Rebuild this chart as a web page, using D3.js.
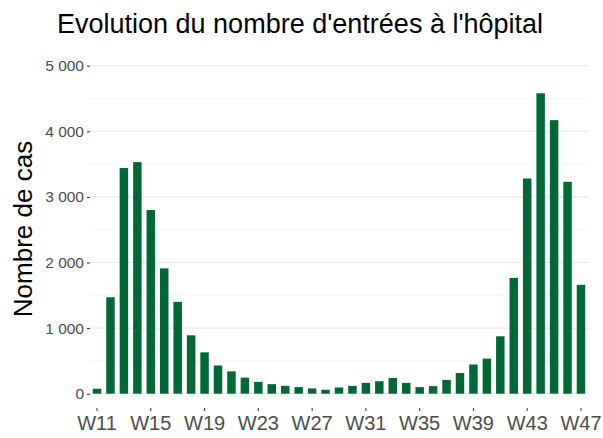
<!DOCTYPE html>
<html>
<head>
<meta charset="utf-8">
<script src="https://cdn.jsdelivr.net/npm/d3@7"></script>
<style>
  body { margin: 0; background: #fff; }
  text { font-family: "Liberation Sans", Arial, sans-serif; }
</style>
</head>
<body>
<script>
// weekly hospital admissions
var weeks = d3.range(11, 48).map(function(w) { return "W" + w; });
var cases = [75, 1470, 3440, 3530, 2800, 1910, 1400, 890, 630, 430,
             340, 245, 180, 145, 120, 100, 80, 60, 95, 120,
             165, 190, 240, 165, 100, 115, 210, 315, 445, 535,
             875, 1765, 3280, 4580, 4170, 3230, 1660];
var yTicks = [0, 1000, 2000, 3000, 4000, 5000];
var yMinor = [500, 1500, 2500, 3500, 4500];
var xTickLabels = ["W11", "W15", "W19", "W23", "W27", "W31", "W35", "W39", "W43", "W47"];

var data = weeks.map(function(w, i) { return {week: w, value: cases[i]}; });

var width = 603;
var height = 438;
var panel = {left: 90, right: 589, top: 58, bottom: 408};

var xScale = d3.scaleBand()
        .domain(weeks)
        .range([90.3, 587.7])
        .paddingInner(0.37)
        .paddingOuter(0.185);

var yScale = d3.scaleLinear()
        .domain([0, 5000])
        .range([393.7, 65.7]);

var svg = d3.select("body")
      .append("svg")
      .attr("width", width)
      .attr("height", height);

// grid
svg.append("g")
    .selectAll("line")
    .data(yMinor)
    .enter().append("line")
      .attr("x1", panel.left).attr("x2", panel.right)
      .attr("y1", function(d) { return yScale(d); })
      .attr("y2", function(d) { return yScale(d); })
      .attr("stroke", "#f0f0f0")
      .attr("stroke-width", 0.7);

svg.append("g")
    .selectAll("line")
    .data(yTicks)
    .enter().append("line")
      .attr("x1", panel.left).attr("x2", panel.right)
      .attr("y1", function(d) { return yScale(d); })
      .attr("y2", function(d) { return yScale(d); })
      .attr("stroke", "#ebebeb")
      .attr("stroke-width", 1.1);

// bars
svg.append("g")
    .selectAll("rect")
    .data(data)
    .enter().append("rect")
      .attr("x", function(d) { return xScale(d.week); })
      .attr("width", xScale.bandwidth())
      .attr("y", function(d) { return yScale(d.value); })
      .attr("height", function(d) { return yScale(0) - yScale(d.value); })
      .attr("fill", "#006837");

// axes
var fmt = function(d) { return d3.format(",")(d).replace(/,/g, " "); };

var yAxis = svg.append("g")
        .attr("transform", "translate(" + panel.left + ",0)")
        .call(d3.axisLeft(yScale).tickValues(yTicks).tickFormat(fmt).tickSize(3).tickPadding(3));
yAxis.select(".domain").remove();
yAxis.selectAll("line").attr("stroke", "#333");
yAxis.selectAll("text")
    .attr("fill", "#4d4d4d")
    .style("font-size", "15.5px")
    .style("font-family", "Liberation Sans, Arial, sans-serif");

var xAxis = svg.append("g")
        .attr("transform", "translate(0," + panel.bottom + ")")
        .call(d3.axisBottom(xScale).tickValues(xTickLabels).tickSize(3).tickPadding(5));
xAxis.select(".domain").remove();
xAxis.selectAll("line").attr("stroke", "#333");
xAxis.selectAll("text")
    .attr("fill", "#4d4d4d")
    .attr("dy", "0.71em")
    .style("font-size", "20px")
    .style("font-family", "Liberation Sans, Arial, sans-serif");

// labels
svg.append("text")
    .attr("x", 57)
    .attr("y", 33)
    .attr("fill", "#000")
    .style("font-size", "27px")
    .text("Evolution du nombre d'entrées à l'hôpital");

svg.append("text")
    .attr("text-anchor", "middle")
    .attr("transform", "translate(32," + 229 + ")rotate(-90)")
    .attr("fill", "#000")
    .style("font-size", "26px")
    .text("Nombre de cas");
</script>
</body>
</html>
